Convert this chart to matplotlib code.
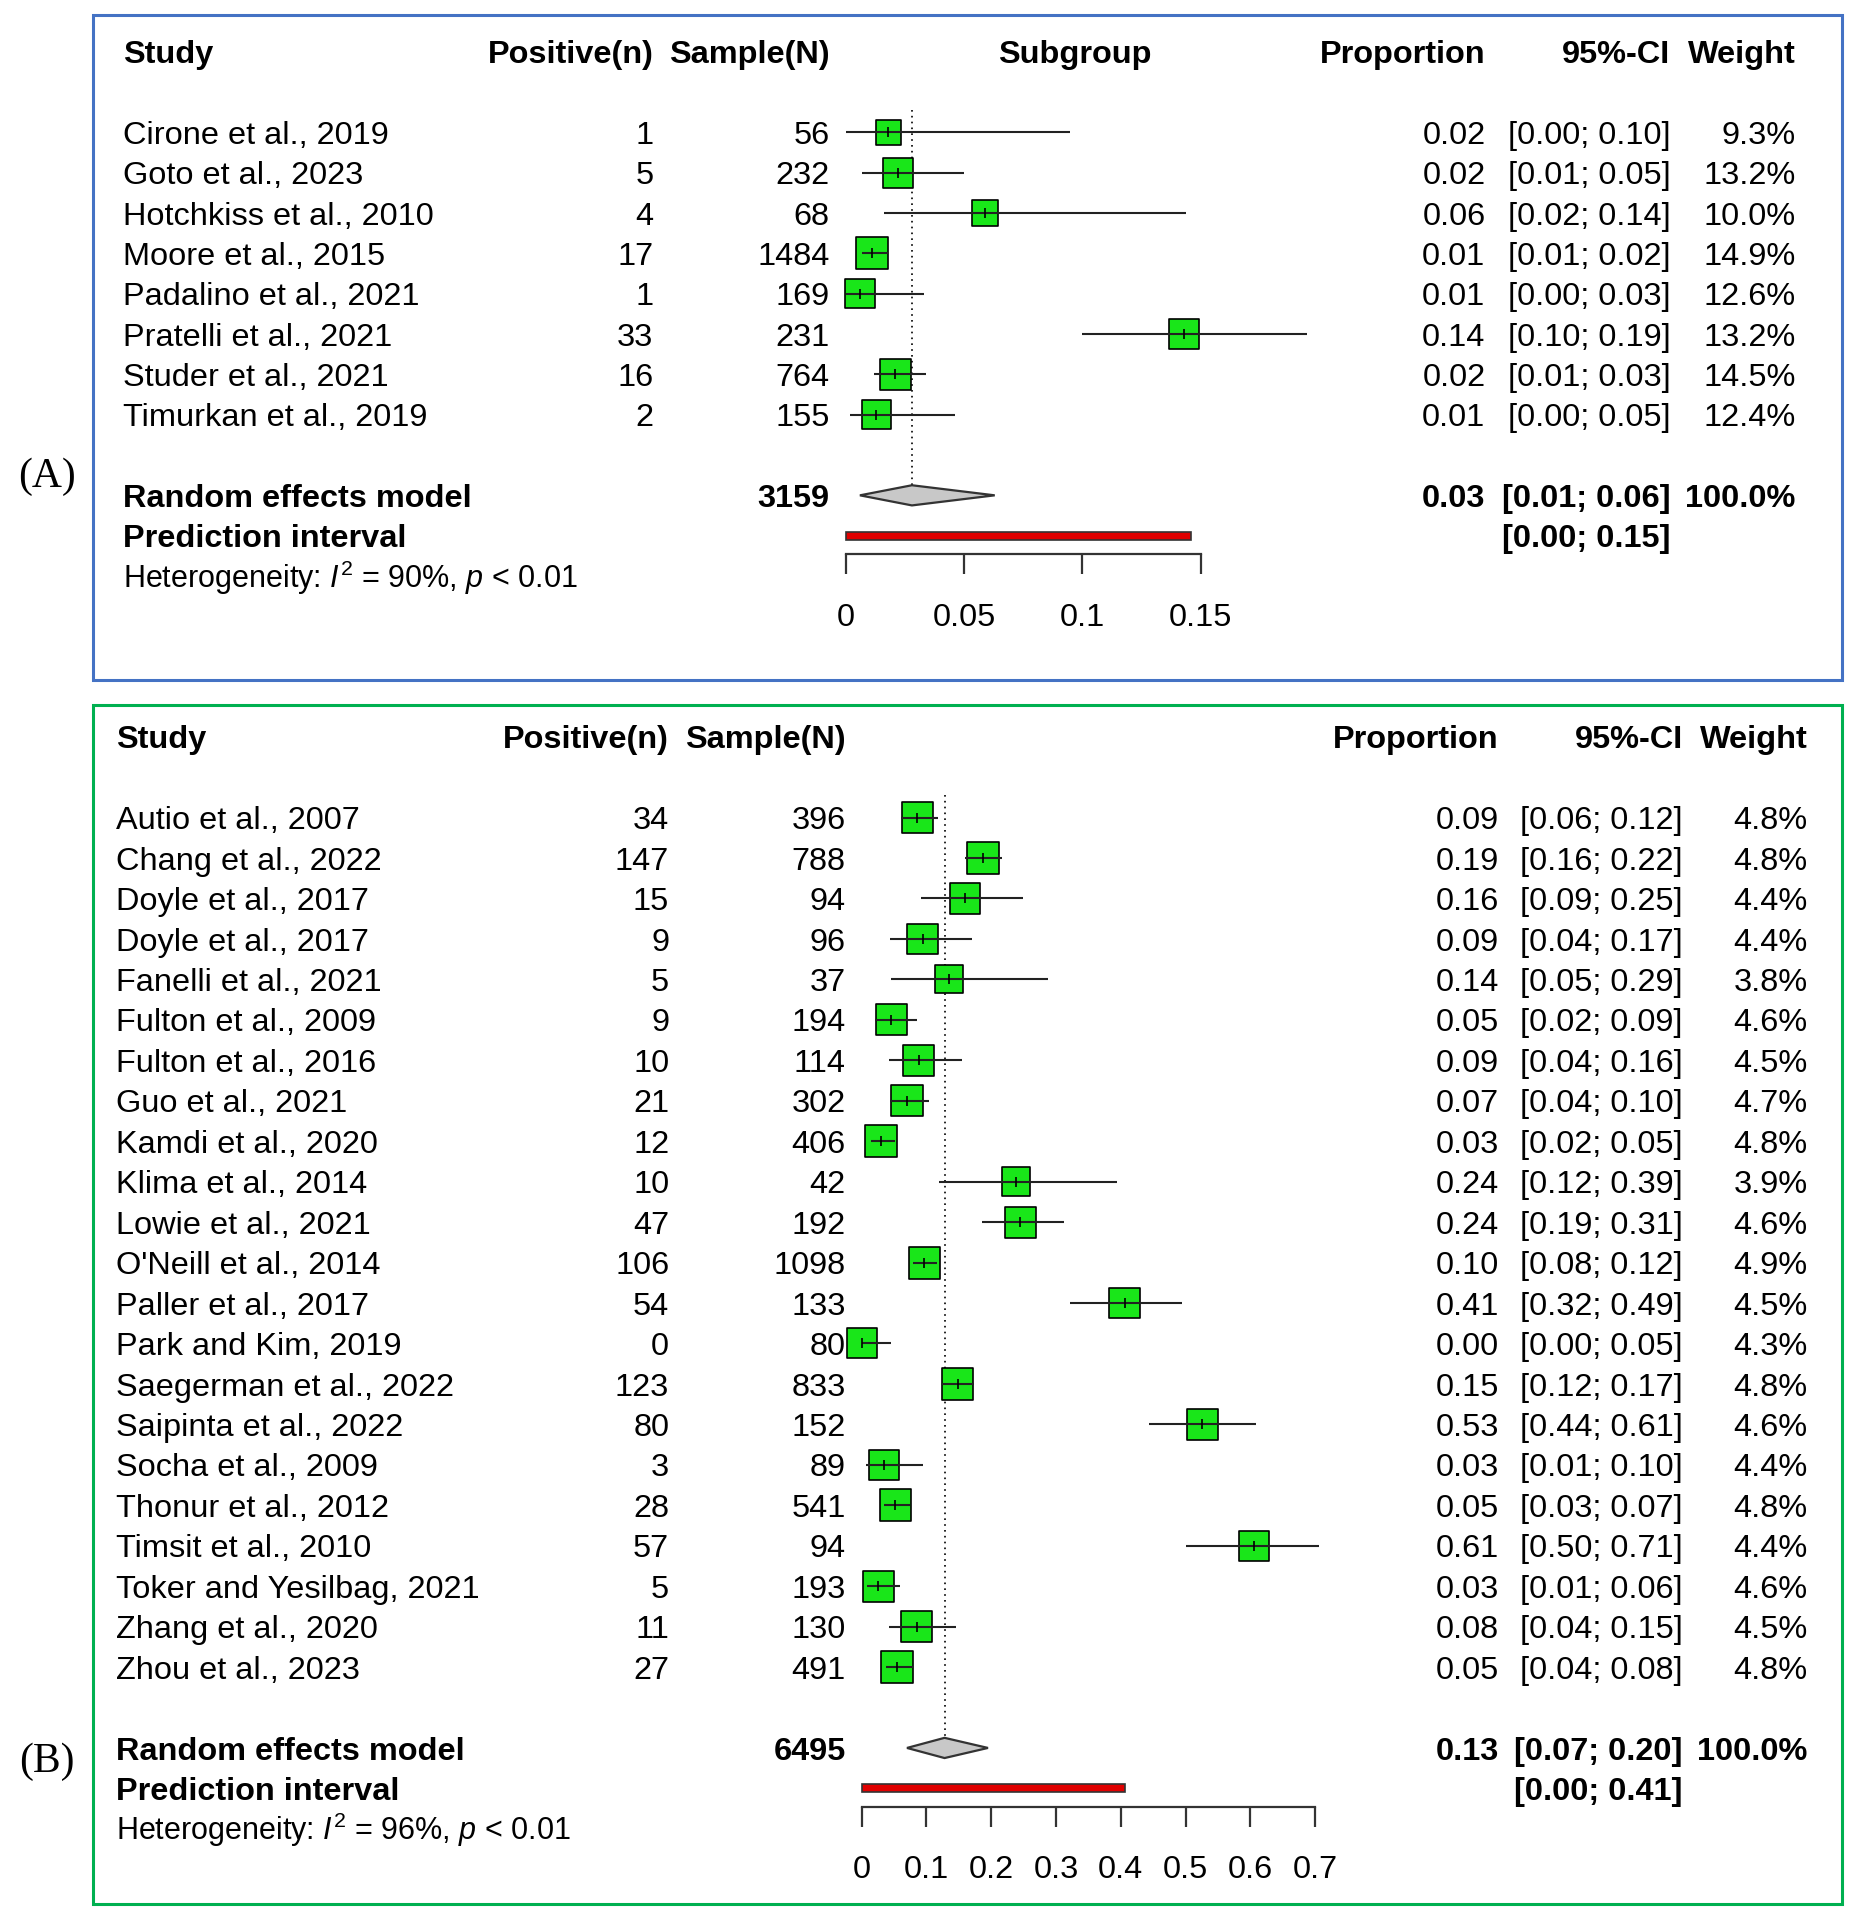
import numpy as np
import matplotlib
matplotlib.use("Agg")
import matplotlib.pyplot as plt
from matplotlib.patches import Rectangle, Polygon
from matplotlib.transforms import blended_transform_factory

plt.rcParams['font.family'] = ['Liberation Sans', 'DejaVu Sans']
plt.rcParams['mathtext.fontset'] = 'custom'
plt.rcParams['mathtext.rm'] = 'Liberation Sans'
plt.rcParams['mathtext.it'] = 'Liberation Sans:italic'

# ---- Panel A data ----
study_a = ["Cirone et al., 2019", "Goto et al., 2023", "Hotchkiss et al., 2010", "Moore et al., 2015",
           "Padalino et al., 2021", "Pratelli et al., 2021", "Studer et al., 2021", "Timurkan et al., 2019"]
pos_a = [1, 5, 4, 17, 1, 33, 16, 2]
n_a = [56, 232, 68, 1484, 169, 231, 764, 155]
prop_a = [0.018, 0.022, 0.059, 0.011, 0.006, 0.143, 0.021, 0.013]
lo_a = [0.000, 0.007, 0.016, 0.007, 0.000, 0.100, 0.012, 0.002]
hi_a = [0.095, 0.050, 0.144, 0.018, 0.033, 0.195, 0.034, 0.046]
weight_a = [9.3, 13.2, 10.0, 14.9, 12.6, 13.2, 14.5, 12.4]
prop_txt_a = ["0.02", "0.02", "0.06", "0.01", "0.01", "0.14", "0.02", "0.01"]
ci_txt_a = ["[0.00; 0.10]", "[0.01; 0.05]", "[0.02; 0.14]", "[0.01; 0.02]",
            "[0.00; 0.03]", "[0.10; 0.19]", "[0.01; 0.03]", "[0.00; 0.05]"]
total_a = 3159
re_a = [0.028, 0.006, 0.063]          # estimate, lower, upper
re_txt_a = ["0.03", "[0.01; 0.06]"]
pi_a = [0.0, 0.146]
pi_txt_a = "[0.00; 0.15]"
het_a = r"Heterogeneity: $I^2$ = 90%, $p$ < 0.01"
ticks_a = [0, 0.05, 0.1, 0.15]
tick_txt_a = ["0", "0.05", "0.1", "0.15"]

# ---- Panel B data ----
study_b = ["Autio et al., 2007", "Chang et al., 2022", "Doyle et al., 2017", "Doyle et al., 2017",
           "Fanelli et al., 2021", "Fulton et al., 2009", "Fulton et al., 2016", "Guo et al., 2021",
           "Kamdi et al., 2020", "Klima et al., 2014", "Lowie et al., 2021", "O'Neill et al., 2014",
           "Paller et al., 2017", "Park and Kim, 2019", "Saegerman et al., 2022", "Saipinta et al., 2022",
           "Socha et al., 2009", "Thonur et al., 2012", "Timsit et al., 2010", "Toker and Yesilbag, 2021",
           "Zhang et al., 2020", "Zhou et al., 2023"]
pos_b = [34, 147, 15, 9, 5, 9, 10, 21, 12, 10, 47, 106, 54, 0, 123, 80, 3, 28, 57, 5, 11, 27]
n_b = [396, 788, 94, 96, 37, 194, 114, 302, 406, 42, 192, 1098, 133, 80, 833, 152, 89, 541, 94, 193, 130, 491]
prop_b = [0.086, 0.187, 0.160, 0.094, 0.135, 0.046, 0.088, 0.070, 0.030, 0.238, 0.245,
          0.097, 0.406, 0.000, 0.148, 0.526, 0.034, 0.052, 0.606, 0.026, 0.085, 0.055]
lo_b = [0.060, 0.160, 0.092, 0.044, 0.045, 0.021, 0.043, 0.044, 0.015, 0.120, 0.186,
        0.080, 0.322, 0.000, 0.124, 0.444, 0.007, 0.035, 0.500, 0.008, 0.043, 0.037]
hi_b = [0.118, 0.216, 0.249, 0.171, 0.288, 0.086, 0.155, 0.104, 0.051, 0.394, 0.312,
        0.116, 0.494, 0.045, 0.174, 0.608, 0.095, 0.074, 0.706, 0.059, 0.146, 0.079]
weight_b = [4.8, 4.8, 4.4, 4.4, 3.8, 4.6, 4.5, 4.7, 4.8, 3.9, 4.6, 4.9, 4.5, 4.3, 4.8,
            4.6, 4.4, 4.8, 4.4, 4.6, 4.5, 4.8]
prop_txt_b = ["0.09", "0.19", "0.16", "0.09", "0.14", "0.05", "0.09", "0.07", "0.03", "0.24", "0.24",
              "0.10", "0.41", "0.00", "0.15", "0.53", "0.03", "0.05", "0.61", "0.03", "0.08", "0.05"]
ci_txt_b = ["[0.06; 0.12]", "[0.16; 0.22]", "[0.09; 0.25]", "[0.04; 0.17]", "[0.05; 0.29]",
            "[0.02; 0.09]", "[0.04; 0.16]", "[0.04; 0.10]", "[0.02; 0.05]", "[0.12; 0.39]",
            "[0.19; 0.31]", "[0.08; 0.12]", "[0.32; 0.49]", "[0.00; 0.05]", "[0.12; 0.17]",
            "[0.44; 0.61]", "[0.01; 0.10]", "[0.03; 0.07]", "[0.50; 0.71]", "[0.01; 0.06]",
            "[0.04; 0.15]", "[0.04; 0.08]"]
total_b = 6495
re_b = [0.128, 0.070, 0.195]
re_txt_b = ["0.13", "[0.07; 0.20]"]
pi_b = [0.0, 0.407]
pi_txt_b = "[0.00; 0.41]"
het_b = r"Heterogeneity: $I^2$ = 96%, $p$ < 0.01"
ticks_b = [0, 0.1, 0.2, 0.3, 0.4, 0.5, 0.6, 0.7]
tick_txt_b = ["0", "0.1", "0.2", "0.3", "0.4", "0.5", "0.6", "0.7"]

# layout is measured on a 1520 x 1568 grid
W, H = 1520, 1568
FS = 23.4
GREEN = '#19e619'

fig = plt.figure(figsize=(18.63, 19.22), dpi=100)
fig.patch.set_facecolor('white')


def forest(box, edge, x0, k, y0, dy, cols, study, pos, tot, prop, lo, hi, wt, p_txt, ci_txt,
           total, re, re_txt, pi, pi_txt, het, ticks, tick_txt, subgroup):
    left, top, right, bottom = box
    ax = fig.add_axes([left / W, 1 - bottom / H, (right - left) / W, (bottom - top) / H])
    ax.set_xlim((left - x0) / k, (right - x0) / k)
    ax.set_ylim((bottom - y0) / dy, (top - y0) / dy)
    ax.patch.set_alpha(0)
    for s in ['top', 'left', 'right']:
        ax.spines[s].set_visible(False)
    ax.tick_params(left=False, labelleft=False)

    # panel border
    ax.add_patch(Rectangle((0, 0), 1, 1, transform=ax.transAxes, fill=False,
                           ec=edge, lw=2.2, clip_on=False))

    tr = blended_transform_factory(fig.transFigure, ax.transData)
    off = 9.5 / dy          # half cap height, in rows
    rows = np.arange(len(study))
    re_row = len(study) + 1
    pi_row = re_row + 1
    het_row = pi_row + 1

    def txt(xd, r, s, ha='right', bold=False, size=FS):
        ax.text(xd / W, r + off, s, transform=tr, ha=ha, va='baseline', size=size,
                fontweight='bold' if bold else 'normal', clip_on=False)

    # header
    txt(cols['study'], -2, "Study", ha='left', bold=True)
    txt(cols['pos'], -2, "Positive(n)", bold=True)
    txt(cols['n'], -2, "Sample(N)", bold=True)
    if subgroup:
        txt(cols['sub'], -2, "Subgroup", ha='center', bold=True)
    txt(cols['prop'], -2, "Proportion", bold=True)
    txt(cols['ci'], -2, "95%-CI", bold=True)
    txt(cols['wt'], -2, "Weight", bold=True)

    for i in rows:
        txt(cols['study'], i, study[i], ha='left')
        txt(cols['pos'], i, str(pos[i]))
        txt(cols['n'], i, str(tot[i]))
        txt(cols['prop'], i, p_txt[i])
        txt(cols['ci'], i, ci_txt[i])
        txt(cols['wt'], i, f"{wt[i]:.1f}%")

    txt(cols['study'], re_row, "Random effects model", ha='left', bold=True)
    txt(cols['n'], re_row, str(total), bold=True)
    txt(cols['prop'], re_row, re_txt[0], bold=True)
    txt(cols['ci'], re_row, re_txt[1], bold=True)
    txt(cols['wt'], re_row, "100.0%", bold=True)
    txt(cols['study'], pi_row, "Prediction interval", ha='left', bold=True)
    txt(cols['ci'], pi_row, pi_txt, bold=True)
    txt(cols['study'], het_row, het, ha='left', size=22)

    # squares, CI lines and centre ticks
    side = 23 * np.sqrt(np.array(wt) / max(wt))
    ax.scatter(prop, rows, s=side ** 2, marker='s', c=GREEN, edgecolors='k',
               linewidths=1.2, zorder=3, clip_on=False)
    ax.hlines(rows, lo, hi, color='#222222', lw=1.5, zorder=4, clip_on=False)
    ax.scatter(prop, rows, s=45, marker='|', c='k', linewidths=1.2, zorder=5, clip_on=False)

    # summary diamond and prediction interval
    est, rlo, rhi = re
    ax.add_patch(Polygon([(rlo, re_row), (est, re_row - 0.25), (rhi, re_row), (est, re_row + 0.25)],
                         closed=True, fc='#c8c8c8', ec='#333333', lw=1.6, zorder=3))
    ax.add_patch(Rectangle((pi[0], pi_row - 0.1), pi[1] - pi[0], 0.2, fc='#e00000',
                           ec='#333333', lw=1.2, zorder=3))
    ax.plot([est, est], [-0.55, re_row - 0.25], ls=(0, (1, 2.5)), color='k', lw=1.2, zorder=2)

    # x axis drawn R-style
    ax.spines['bottom'].set_position(('data', pi_row + 0.46))
    ax.spines['bottom'].set_bounds(ticks[0], ticks[-1])
    ax.spines['bottom'].set_color('#333333')
    ax.spines['bottom'].set_linewidth(1.6)
    ax.set_xticks(ticks)
    ax.set_xticklabels(tick_txt)
    ax.tick_params(axis='x', direction='out', length=14.4, width=1.6, color='#333333',
                   pad=20.5, labelsize=FS)
    return ax


forest((76, 12, 1503, 555), '#4472c4', 690, 1930, 108, 32.9,
       dict(study=100, pos=533, n=677, sub=877, prop=1212, ci=1363, wt=1465),
       study_a, pos_a, n_a, prop_a, lo_a, hi_a, weight_a, prop_txt_a, ci_txt_a,
       total_a, re_a, re_txt_a, pi_a, pi_txt_a, het_a, ticks_a, tick_txt_a, True)

forest((76, 575, 1503, 1553), '#00b050', 703, 528.6, 667, 33.0,
       dict(study=95, pos=546, n=690, prop=1223, ci=1373, wt=1475),
       study_b, pos_b, n_b, prop_b, lo_b, hi_b, weight_b, prop_txt_b, ci_txt_b,
       total_b, re_b, re_txt_b, pi_b, pi_txt_b, het_b, ticks_b, tick_txt_b, False)

fig.text(38 / W, 1 - 389 / H, "(A)", family='Liberation Serif', size=30, ha='center', va='center')
fig.text(38 / W, 1 - 1437 / H, "(B)", family='Liberation Serif', size=30, ha='center', va='center')

fig.savefig("out.png", dpi=100)
